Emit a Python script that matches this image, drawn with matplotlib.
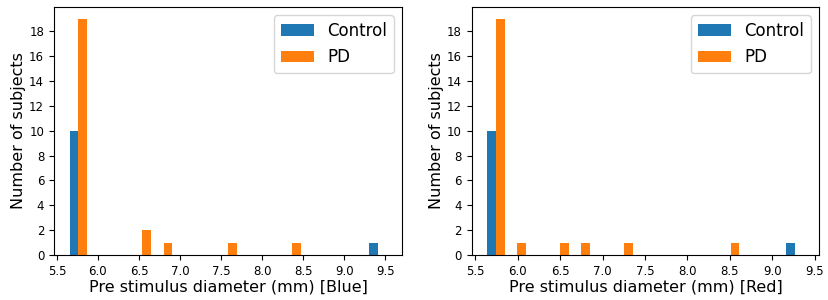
import matplotlib
matplotlib.use("Agg")
import matplotlib.pyplot as plt

# pupil diameter before stimulus (mm), one value per subject
control_blue = [5.64, 5.66, 5.68, 5.70, 5.72, 5.74, 5.76, 5.79, 5.82, 5.85, 9.54]
pd_blue = [5.63, 5.64, 5.65, 5.66, 5.67, 5.68, 5.69, 5.70, 5.71, 5.72,
           5.73, 5.74, 5.75, 5.76, 5.78, 5.80, 5.82, 5.84, 5.86,
           6.55, 6.60, 6.80, 7.60, 8.40]

control_red = [5.63, 5.65, 5.67, 5.69, 5.71, 5.73, 5.75, 5.78, 5.81, 5.84, 9.39]
pd_red = [5.62, 5.63, 5.64, 5.65, 5.66, 5.67, 5.68, 5.69, 5.70, 5.71,
          5.72, 5.73, 5.74, 5.75, 5.77, 5.79, 5.81, 5.83, 5.85,
          6.00, 6.50, 6.75, 7.25, 8.55]

n_bins = 15
labels = ['Control', 'PD']

fig = plt.figure(figsize=(8.29, 3.0), dpi=100)
ax1 = fig.add_axes([0.065, 0.15, 0.42, 0.827])
ax2 = fig.add_axes([0.569, 0.15, 0.419, 0.827])

for ax, ctrl, pdv, name in [(ax1, control_blue, pd_blue, 'Blue'),
                            (ax2, control_red, pd_red, 'Red')]:
    ax.hist([ctrl, pdv], bins=n_bins, label=labels)
    ax.set_xlabel('Pre stimulus diameter (mm) [%s]' % name, fontsize=11.5, labelpad=1)
    ax.set_ylabel('Number of subjects', fontsize=11.5, labelpad=2)
    ax.set_yticks(range(0, 19, 2))
    ax.set_xticks([5.5, 6.0, 6.5, 7.0, 7.5, 8.0, 8.5, 9.0, 9.5])
    ax.tick_params(labelsize=8.5)
    ax.legend(loc='upper right', fontsize=12)

fig.savefig('out.png', dpi=100)
